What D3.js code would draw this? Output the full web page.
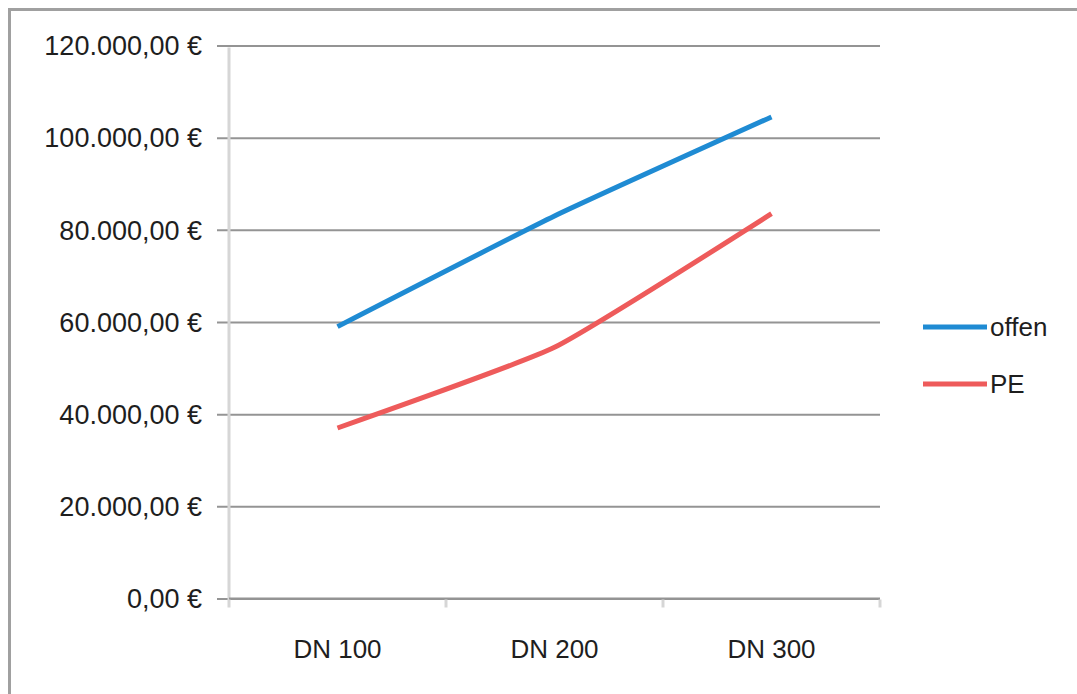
<!DOCTYPE html>
<html>
<head>
<meta charset="utf-8">
<script src="https://cdn.jsdelivr.net/npm/d3@7"></script>
<style>
  html, body { margin: 0; padding: 0; background: #fff; }
  svg { display: block; }
  text { font-family: "Liberation Sans", Arial, sans-serif; fill: #1e1e1e; }
</style>
</head>
<body>
<script>
// Pipe sizes on the category axis
const categories = ["DN 100", "DN 200", "DN 300"];
// Costs in euro per pipe size
const offenValues = [59000, 83000, 104500];
const peValues = [37000, 54500, 83500];
const seriesNames = ["offen", "PE"];
const seriesColors = ["#1f8bd3", "#ee5b5b"];
// Value axis ticks
const yTicks = [0, 20000, 40000, 60000, 80000, 100000, 120000];

const W = 1077, H = 694;
const plot = { left: 229, right: 880, top: 45.5, bottom: 598.5 };

const svg = d3.select("body").append("svg").attr("width", W).attr("height", H);

// Frame lines on the top and left edges
svg.append("line").attr("x1", 8).attr("x2", W).attr("y1", 9.5).attr("y2", 9.5)
  .attr("stroke", "#a0a0a0").attr("stroke-width", 3);
svg.append("line").attr("x1", 9.5).attr("x2", 9.5).attr("y1", 8).attr("y2", H)
  .attr("stroke", "#a0a0a0").attr("stroke-width", 3);

const x = d3.scaleBand().domain(categories).range([plot.left, plot.right]).padding(0);
const y = d3.scaleLinear().domain([0, 120000]).range([plot.bottom, plot.top]);

const fmt = v => d3.formatLocale({ decimal: ",", thousands: ".", grouping: [3], currency: ["", " €"] })
  .format(",.2f")(v) + " €";

// Horizontal gridlines with left tick stubs
const yAxis = d3.axisLeft(y).tickValues(yTicks).tickFormat(fmt)
  .tickSize(-(plot.right - plot.left)).tickPadding(15);
const gy = svg.append("g").attr("transform", `translate(${plot.left},0)`).call(yAxis);
gy.select(".domain").remove();
gy.selectAll(".tick line").attr("stroke", "#949494").attr("stroke-width", 2)
  .attr("x1", -12);
gy.selectAll(".tick text").attr("font-size", 27).attr("x", -27).attr("dy", "0.34em")
  .style("font-family", "'Liberation Sans', Arial, sans-serif").attr("fill", "#1e1e1e");

// Vertical value-axis line
svg.append("line").attr("x1", plot.left).attr("x2", plot.left)
  .attr("y1", plot.top + 2).attr("y2", plot.bottom + 9)
  .attr("stroke", "#d6d6d6").attr("stroke-width", 3);

// Category axis: baseline and tick marks on band boundaries
const bounds = categories.map(c => x(c)).concat([x(categories[categories.length - 1]) + x.bandwidth()]);
svg.append("line").attr("x1", plot.left).attr("x2", plot.right)
  .attr("y1", plot.bottom).attr("y2", plot.bottom)
  .attr("stroke", "#949494").attr("stroke-width", 2);
svg.selectAll(".xtick").data(bounds.slice(1)).enter().append("line")
  .attr("class", "xtick")
  .attr("x1", d => d).attr("x2", d => d)
  .attr("y1", plot.bottom + 1).attr("y2", plot.bottom + 9)
  .attr("stroke", "#d6d6d6").attr("stroke-width", 3);

svg.selectAll(".xlabel").data(categories).enter().append("text")
  .attr("class", "xlabel")
  .attr("x", d => x(d) + x.bandwidth() / 2)
  .attr("y", 658)
  .attr("text-anchor", "middle")
  .attr("font-size", 26)
  .text(d => d);

// Series lines, lightly smoothed
const series = [offenValues, peValues];
const line = d3.line()
  .x((d, i) => x(categories[i]) + x.bandwidth() / 2)
  .y(d => y(d))
  .curve(d3.curveCardinal.tension(0.55));

svg.selectAll(".series").data(series).enter().append("path")
  .attr("class", "series")
  .attr("d", d => line(d))
  .attr("fill", "none")
  .attr("stroke", (d, i) => seriesColors[i])
  .attr("stroke-width", 5)
  .attr("stroke-linecap", "butt")
  .attr("stroke-linejoin", "round");

// Legend
const legend = svg.append("g");
const legendY = [327, 384];
seriesNames.forEach((name, i) => {
  legend.append("line")
    .attr("x1", 923).attr("x2", 987)
    .attr("y1", legendY[i]).attr("y2", legendY[i])
    .attr("stroke", seriesColors[i]).attr("stroke-width", 5);
  legend.append("text")
    .attr("x", 990).attr("y", legendY[i])
    .attr("dy", "0.35em")
    .attr("font-size", 26)
    .text(name);
});
</script>
</body>
</html>
